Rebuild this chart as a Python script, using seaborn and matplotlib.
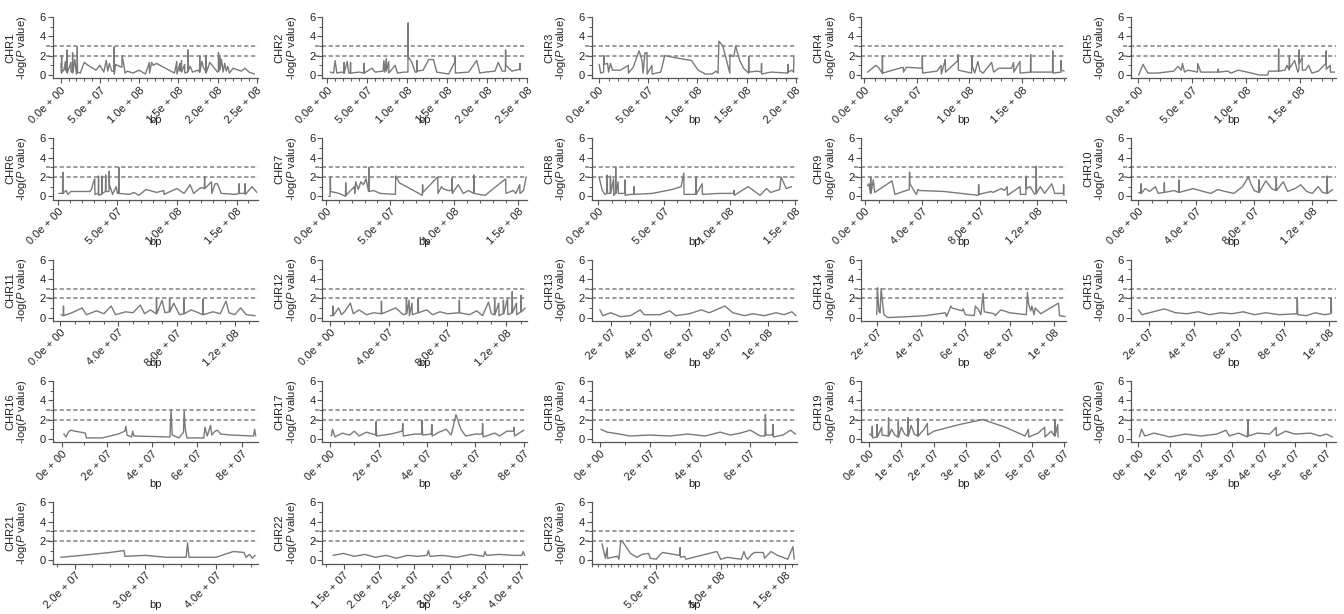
import matplotlib
matplotlib.use("Agg")
import matplotlib.pyplot as plt
import seaborn as sns
import pandas as pd
from matplotlib.ticker import FixedLocator, FixedFormatter, MultipleLocator

# ---------------- data (positions in Mb, values are -log10 P) ----------------
chr1 = [(0.5,1.2),(1.0,0.2),(1.2,2.0),(1.4,0.3),(4,0.5),(6,1.4),(6.2,0.5),(8,0.3),(8.2,2.6),(8.4,0.2),(10,0.6),(11,0.8),(13,1.3),(13.2,0.3),(15,0.3),(15.2,2.3),(15.4,0.2),(18,1.6),(20,0.1),(21,0.2),(21.2,2.9),(21.4,0.3),(25,0.2),(30,1.3),(35,1.0),(45,0.5),(50,1.0),(55,0.3),(58,1.5),(60,0.4),(62,1.2),(65,0.4),(68,0.4),(68.2,2.9),(68.4,0.1),(70,1.1),(72,1.0),(78,0.8),(78.2,2.0),(80,1.3),(82,0.2),(85,0.4),(92,0.2),(100,0.5),(108,0.1),(113,1.3),(113.2,0.2),(116,1.3),(118,1.0),(122,1.2),(145,0.2),(148,1.4),(148.2,0.1),(152,1.2),(152.2,0.4),(154,1.5),(154.2,0.3),(158,1.1),(158.2,0.2),(162,0.3),(162.2,2.6),(162.4,0.4),(165,0.9),(168,0.3),(175,0.5),(177,0.3),(177.2,2.0),(177.4,0.3),(180,1.4),(182,0.8),(185,0.3),(185.2,2.0),(185.4,0.2),(190,1.3),(195,0.8),(200,0.3),(201,0.4),(201.2,2.3),(201.4,0.4),(203,1.8),(203.2,0.6),(205,1.6),(207,0.3),(209,1.2),(211,0.4),(213,0.9),(215,0.2),(220,0.7),(230,0.4),(235,0.7),(240,0.3),(247,0.1)]
chr2 = [(4,0.3),(8,0.2),(10,1.5),(12,0.2),(18,0.3),(21,0.2),(21.2,1.3),(21.4,0.2),(25,1.4),(27,0.2),(29,0.2),(29.2,1.3),(29.4,0.2),(40,0.3),(46,0.2),(46.2,1.2),(46.4,0.2),(56,0.7),(60,0.3),(70,0.4),(71,1.5),(72,0.3),(74,1.7),(74.2,0.4),(77,1.4),(77.2,0.2),(85,1.0),(88,0.2),(96,0.3),(101,0.3),(101.2,5.4),(101.4,1.9),(106,1.3),(110,0.3),(112,0.3),(112.2,1.5),(112.4,0.4),(120,0.5),(127,1.6),(133,1.6),(137,0.3),(152,0.1),(160,1.4),(160.2,1.9),(160.4,0.2),(177,0.3),(187,1.5),(191,0.2),(198,0.3),(210,0.4),(214,1.3),(219,0.4),(223,0.4),(223.2,2.6),(223.4,1.0),(231,0.4),(241,0.6),(241.2,1.2),(241.4,0.5)]
chr3 = [(0.5,1.1),(2,0.2),(5,0.3),(5.2,2.0),(5.4,1.1),(9,1.2),(10,0.3),(12,1.2),(14,0.5),(22,0.5),(30,1.0),(30.2,0.2),(35,0.8),(41,2.5),(44,1.5),(45,0.2),(47,2.3),(49,2.3),(49.2,0.1),(54,1.0),(54.2,0.1),(63,0.3),(67,2.0),(77,1.8),(94,1.5),(101,0.5),(108,0.1),(115,0.1),(119,0.4),(121,0.2),(122,3.5),(126,3.0),(133,0.2),(133.2,2.1),(137,1.9),(139,3.0),(143,1.5),(147,0.7),(150,0.4),(152,0.2),(152.2,1.9),(152.4,0.3),(161,0.4),(165,0.3),(165.2,1.2),(165.4,0.1),(175,0.3),(192,0.2),(192.2,1.1),(192.4,0.3),(196,0.5),(197.8,0.3),(198,2.0)]
chr4 = [(3,0.3),(11,1.0),(14,0.7),(17,0.2),(17.2,2.0),(17.4,0.2),(37,0.8),(37.2,0.3),(40,0.8),(55,0.7),(55.2,2.0),(55.4,0.2),(69,0.4),(73,1.0),(73.2,0.1),(76,1.2),(77,1.6),(77.2,0.3),(89,1.5),(89.2,2.1),(89.4,0.5),(102,0.2),(102.2,2.0),(102.4,1.0),(105,0.2),(108,1.4),(110,0.4),(113,0.2),(121,1.3),(123,0.3),(128,0.7),(140,0.7),(142,1.3),(142.2,0.3),(148,1.4),(148.2,0.2),(158,0.3),(158.2,2.1),(158.4,0.3),(173,0.3),(179,0.3),(179.2,2.5),(179.4,0.2),(187,0.3),(187.2,1.5),(187.4,0.5),(190,0.4)]
chr5 = [(0.5,0.0),(4.5,1.1),(9,0.2),(18,0.2),(33,0.4),(37,0.9),(40,0.5),(41,1.2),(43,0.3),(46,0.5),(55,0.3),(55.2,1.2),(58,0.3),(74,0.3),(74.2,0.6),(74.4,0.3),(83,0.4),(86,0.2),(93,0.5),(105,0.2),(112,0.0),(120,0.0),(121,0.4),(130,0.4),(130.2,2.7),(130.4,0.4),(136,0.5),(138,1.0),(140,0.5),(140.2,2.0),(140.4,0.7),(145,1.5),(148,0.3),(149,0.5),(149.2,2.6),(149.4,1.2),(152,1.8),(152.2,0.5),(155,0.5),(158,1.0),(161,0.2),(167,0.4),(174,1.2),(174.2,2.5),(174.4,0.6),(178,1.0),(178.2,0.3),(182,0.3)]
chr6 = [(1,0.3),(4,0.3),(4.2,2.5),(4.4,0.3),(7,0.6),(8.5,0.2),(11,0.5),(27,0.5),(28.5,0.8),(30,1.5),(31,1.8),(31.2,0.2),(34,0.3),(34.2,2.1),(34.4,0.1),(37,0.2),(37.2,2.1),(37.4,0.3),(40,0.5),(40.2,2.2),(40.4,0.5),(43,0.5),(43.2,2.6),(43.4,1.2),(46,0.2),(49,1.0),(50,0.3),(51,0.3),(51.2,3.0),(51.4,0.3),(60,0.2),(64,0.4),(68,0.1),(74,0.7),(83,0.4),(89,0.6),(89.2,0.2),(100,0.8),(106,0.3),(111,1.2),(114,0.3),(120,0.9),(123,0.8),(123.2,2.0),(123.4,0.8),(129,1.5),(129.2,0.3),(132,1.3),(134,1.3),(137,0.3),(149,0.2),(152,0.3),(152.2,1.3),(152.4,0.3),(157,0.3),(157.2,1.3),(157.4,0.2),(163,1.0),(167,0.4)]
chr7 = [(2,0.0),(3,0.0),(3.2,2.0),(3.4,0.5),(10,0.3),(15,0.0),(15.2,1.4),(15.4,0.1),(22,1.0),(22.2,0.3),(23,1.5),(25,0.7),(27,1.5),(29,1.2),(31,1.8),(33,0.5),(33.2,3.0),(33.4,0.5),(37,0.6),(42,0.3),(54,0.2),(54.2,2.1),(57,1.4),(75,0.1),(75.2,1.2),(75.4,0.4),(87,2.0),(87.2,0.3),(90,1.0),(91,0.8),(95,0.6),(98,0.6),(98.2,1.9),(98.4,0.3),(103,1.2),(107,0.3),(111,0.6),(115,0.3),(115.2,2.2),(115.4,0.3),(119,0.2),(124,0.1),(140,1.8),(140.2,0.3),(146,0.6),(148,0.3),(151,1.2),(151.2,0.3),(154,0.6),(156,2.0)]
chr8 = [(0.5,2.0),(3,0.6),(5,0.2),(6.5,0.3),(6.7,2.2),(6.9,0.3),(9,0.3),(9.2,2.1),(9.4,0.3),(11.5,1.8),(11.7,0.1),(13,0.3),(13.2,3.0),(13.4,0.3),(15,1.5),(15.2,0.3),(20,0.3),(20.2,1.7),(20.4,0.1),(24,0.2),(27,0.2),(27.2,1.0),(27.4,0.2),(41,0.3),(56,0.7),(63,1.0),(65,2.4),(65.2,0.2),(74,0.2),(74.2,2.0),(74.4,0.2),(79,1.3),(79.2,0.2),(92,0.3),(103,0.3),(103.2,0.6),(103.4,0.1),(114,1.0),(123,0.1),(128,0.8),(131,0.4),(138,0.7),(139,2.0),(143,0.8),(147,1.0)]
chr9 = [(2,1.1),(3,1.3),(4,0.3),(4.2,2.0),(4.4,0.3),(6,1.7),(7,0.4),(19,1.6),(21,0.2),(31,0.7),(31.2,2.5),(31.4,1.3),(35,0.4),(36,0.2),(37,0.7),(38,0.6),(55,0.5),(79,0.1),(79.2,1.2),(79.4,0.2),(88,0.5),(89,0.4),(95,0.8),(97,0.6),(99,1.0),(99.2,0.1),(108,1.0),(108.2,0.2),(112,0.2),(112.2,2.1),(112.4,0.8),(115,1.0),(118,0.2),(119,0.3),(119.2,3.1),(119.4,0.3),(122,1.0),(125,0.3),(130,1.3),(132,0.3),(138,0.3),(138.2,1.2),(138.4,0.1)]
chr10 = [(0.5,0.4),(2,0.3),(2.2,1.3),(2.4,0.3),(5,0.8),(8,0.5),(12,1.0),(14,0.3),(18,0.4),(18.2,1.4),(18.4,0.4),(25,0.6),(28,0.4),(28.2,1.7),(28.4,0.4),(38,0.8),(45,0.5),(50,0.3),(55,0.7),(60,0.5),(66,0.3),(72,1.0),(76,2.0),(78,1.2),(80,0.6),(83,0.4),(83.2,1.7),(83.4,0.4),(88,1.6),(92,0.8),(95,0.6),(95.2,1.9),(95.4,0.6),(100,1.5),(103,0.5),(108,0.8),(112,1.2),(116,0.5),(120,0.3),(124,1.0),(127,0.4),(130,0.3),(130.2,2.1),(130.4,0.3),(134,0.7)]
chr11 = [(0.5,0.3),(2,0.2),(2.2,1.2),(2.4,0.2),(8,0.5),(15,1.0),(18,0.3),(25,0.7),(30,0.4),(35,1.2),(38,0.3),(45,0.6),(50,0.5),(55,1.3),(58,0.4),(62,0.8),(66,0.4),(66.2,2.0),(66.4,0.4),(70,1.8),(72,0.5),(75,0.6),(75.2,2.0),(75.4,0.6),(78,1.5),(82,0.3),(85,0.4),(85.2,1.9),(85.4,0.4),(90,0.8),(95,0.5),(98,0.3),(98.2,1.9),(98.4,0.3),(105,0.6),(110,0.4),(114,1.7),(116,0.5),(120,0.3),(124,1.0),(128,0.3),(134,0.2)]
chr12 = [(0.5,0.2),(2,0.2),(2.2,1.2),(2.4,0.2),(6,1.0),(8,0.3),(10,0.6),(14,1.5),(16,0.4),(20,0.8),(25,0.3),(30,0.5),(35,0.4),(35.2,1.7),(35.4,0.4),(45,1.0),(50,0.3),(52,0.4),(52.2,2.0),(52.4,0.4),(54,1.8),(54.2,0.2),(56,1.5),(56.2,0.3),(60,0.5),(60.2,2.0),(60.4,0.5),(66,0.8),(70,0.3),(75,0.6),(80,0.4),(88,0.5),(88.2,1.8),(88.4,0.5),(95,0.3),(100,0.7),(104,0.2),(108,1.6),(110,0.4),(112,0.3),(112.2,1.9),(112.4,0.3),(115,1.5),(115.2,0.2),(118,0.4),(118.2,1.8),(118.4,0.4),(121,2.0),(121.2,0.3),(124,0.5),(124.2,2.7),(124.4,0.5),(127,1.5),(127.2,0.3),(130,0.6),(130.2,2.3),(130.4,0.6),(133,1.0)]
chr13 = [(14.5,0.8),(16,0.2),(20,0.5),(25,0.1),(30,0.2),(35,0.8),(37,0.3),(45,0.3),(50,0.7),(53,0.2),(60,0.4),(66,0.8),(70,0.5),(78,1.2),(82,0.5),(88,0.2),(92,0.4),(98,0.2),(104,0.5),(108,0.3),(112,0.6),(114,0.2)]
chr14 = [(20,0.3),(20.3,3.1),(21,0.6),(21.5,0.5),(22,3.0),(22.8,1.2),(23.3,0.3),(25,0.0),(34,0.1),(42,0.2),(51,0.5),(51.5,0.1),(53.5,1.2),(54,1.0),(58.5,0.7),(59,0.9),(60,0.3),(64,0.2),(64.5,1.2),(66,0.8),(67,0.3),(68,2.5),(68.5,0.6),(73,0.4),(73.5,0.2),(76,0.8),(80,0.5),(87.5,0.3),(88,2.6),(88.5,1.4),(89.5,0.7),(90,1.2),(91,0.3),(91.5,1.0),(94,0.4),(102,1.5),(102.5,0.2),(105,0.1)]
chr15 = [(15.5,0.8),(17,0.3),(22,0.6),(27,0.9),(32,0.5),(37,0.4),(42,0.6),(47,0.3),(52,0.5),(57,0.4),(62,0.6),(67,0.3),(72,0.5),(78,0.3),(85.8,0.4),(86,2.0),(86.2,0.3),(90,0.2),(94,0.5),(98,0.3),(100.8,0.4),(101,2.0),(101.2,0.5)]
chr16 = [(1,0.5),(2,0.2),(3,0.7),(4,0.9),(6,0.8),(10.5,0.6),(11,0.1),(18,0.1),(25,0.5),(28,0.8),(28.5,1.3),(29,0.4),(31,0.2),(31.5,0.8),(32,0.3),(48,0.2),(48.5,3.0),(49,0.4),(52,0.1),(54,0.7),(54.3,2.9),(54.8,1.0),(55.5,0.1),(63,0.1),(63.5,1.2),(64.5,0.3),(66,1.4),(66.5,0.4),(68,0.8),(69,0.9),(70.5,0.5),(75,0.4),(85,0.3),(85.5,1.0),(86,0.3)]
chr17 = [(0.5,0.3),(1,1.0),(2,0.2),(5,0.6),(8,0.4),(10,0.8),(12,0.3),(15,0.7),(18.8,0.4),(19,1.8),(19.2,0.3),(25,0.5),(29.8,0.8),(30,1.6),(30.2,0.3),(35,0.5),(37.8,0.5),(38,1.9),(38.2,0.4),(41.8,0.5),(42,1.5),(42.2,0.3),(45,0.7),(48,1.0),(50,0.4),(52,2.5),(54,1.0),(56,0.3),(60,0.5),(62.8,0.5),(63,1.6),(63.2,0.2),(68,0.6),(70,0.3),(73,0.8),(75.8,0.8),(76,1.2),(76.2,0.3),(80,0.9)]
chr18 = [(0.5,1.0),(3,0.7),(8,0.5),(12,0.3),(20,0.4),(28,0.3),(35,0.5),(42,0.3),(48,0.7),(52,0.4),(56,0.6),(60,0.9),(64,0.3),(65.8,0.3),(66,2.5),(66.2,0.4),(68.8,0.4),(69,1.5),(69.2,0.2),(73,0.4),(76,0.9),(78,0.5)]
chr19 = [(0.3,0.5),(1,0.3),(1.1,1.3),(1.2,0.1),(2.5,0.2),(2.6,1.5),(2.7,0.2),(4,1.2),(4.1,0.4),(6,0.3),(6.1,2.2),(6.2,0.3),(7,1.0),(8,0.4),(9,0.2),(9.1,1.8),(9.2,0.2),(10,1.2),(11,0.5),(12,0.3),(12.1,2.2),(12.2,0.3),(13,1.4),(14,0.5),(15,0.3),(15.1,2.1),(15.2,0.3),(17,1.0),(18,1.6),(18.1,0.4),(20,0.8),(28,1.5),(35,2.0),(42,1.2),(48,0.3),(49,1.0),(49.1,0.2),(52,0.6),(54,1.2),(54.1,0.2),(56,0.8),(57,0.3),(57.1,2.0),(57.2,0.3),(58,1.5),(58.1,0.2)]
chr20 = [(0.3,0.2),(1,1.0),(2,0.3),(5,0.6),(10,0.2),(15,0.5),(20,0.3),(25,0.5),(28,0.9),(29,0.3),(32,0.6),(34.8,0.2),(35,2.0),(35.2,0.3),(38,0.6),(42,0.5),(44,1.2),(44.1,0.3),(47,0.8),(50,0.5),(55,0.6),(58,0.3),(60,0.5),(62,0.2)]
chr21 = [(18,0.3),(21,0.5),(25,0.8),(27,1.0),(27.1,0.4),(30,0.5),(33,0.3),(35.8,0.3),(36,1.8),(36.2,0.3),(40,0.3),(42.5,0.9),(44,0.8),(44.3,0.3),(44.8,0.6),(45.2,0.2),(45.6,0.5)]
chr22 = [(13.5,0.5),(15,0.7),(16.5,0.4),(18,0.6),(19.5,0.3),(21,0.5),(22.5,0.2),(24,0.5),(25.5,0.4),(26.8,0.5),(27,1.0),(27.2,0.4),(29,0.5),(31,0.3),(33,0.6),(34.8,0.4),(35,0.9),(35.2,0.5),(37,0.6),(39,0.5),(40.2,0.5),(40.4,0.9),(40.6,0.5)]
chr23 = [(8,1.7),(10.5,0.2),(12,1.3),(12.2,0.2),(20,0.4),(21,0.1),(22.5,2.0),(24,1.9),(30,0.7),(35,0.3),(39,0.6),(44,0.7),(45.5,0.2),(50,0.1),(53,0.6),(55,0.8),(68,0.5),(68.5,1.3),(68.7,0.3),(72,0.4),(73,0.1),(97,0.9),(100,0.1),(105,0.3),(110,0.2),(116,0.1),(118,0.9),(119.5,0.3),(121,0.1),(124,0.6),(126,0.8),(133,0.8),(134,0.2),(139,0.9),(144,0.5),(152,0.1),(156,1.4),(157,0.1)]

series = [chr1, chr2, chr3, chr4, chr5, chr6, chr7, chr8, chr9, chr10, chr11, chr12,
          chr13, chr14, chr15, chr16, chr17, chr18, chr19, chr20, chr21, chr22, chr23]
chrom_names = ["CHR%d" % i for i in range(1, 24)]

# x-axis extent of each panel (Mb)
x_extent = [(-9.8, 251.5), (-6, 250.5), (-7, 201), (-3, 192), (-7, 183), (-4, 168),
            (-3, 157), (-5, 151), (-2.4, 140), (-5, 136), (-5, 136), (-5, 134.5),
            (10.4, 114.5), (13, 105.5), (12, 103), (-3.8, 87), (-3.2, 81.5), (-3.1, 78.5),
            (-2.3, 60.6), (-2.5, 63), (16.9, 46), (12, 41), (0, 159)]

# tick positions (Mb) and labels
ticks_a = [0, 50, 100, 150, 200, 250]
labels_a = ["0.0e + 00", "5.0e + 07", "1.0e + 08", "1.5e + 08", "2.0e + 08", "2.5e + 08"]
ticks_b = [0, 40, 80, 120]
labels_b = ["0.0e + 00", "4.0e + 07", "8.0e + 07", "1.2e + 08"]
ticks_c = [20, 40, 60, 80, 100]
labels_c = ["2e + 07", "4e + 07", "6e + 07", "8e + 07", "1e + 08"]
ticks_d = [0, 20, 40, 60, 80]
labels_d = ["0e + 00", "2e + 07", "4e + 07", "6e + 07", "8e + 07"]
ticks_e = [0, 10, 20, 30, 40, 50, 60]
labels_e = ["0e + 00", "1e + 07", "2e + 07", "3e + 07", "4e + 07", "5e + 07", "6e + 07"]
ticks_f = [20, 30, 40]
labels_f = ["2.0e + 07", "3.0e + 07", "4.0e + 07"]
ticks_g = [15, 20, 25, 30, 35, 40]
labels_g = ["1.5e + 07", "2.0e + 07", "2.5e + 07", "3.0e + 07", "3.5e + 07", "4.0e + 07"]
ticks_h = [50, 100, 150]
labels_h = ["5.0e + 07", "1.0e + 08", "1.5e + 08"]

tick_sets = [
    (ticks_a, labels_a), (ticks_a, labels_a), (ticks_a[:5], labels_a[:5]),
    (ticks_a[:4], labels_a[:4]), (ticks_a[:4], labels_a[:4]), (ticks_a[:4], labels_a[:4]),
    (ticks_a[:4], labels_a[:4]), (ticks_a[:4], labels_a[:4]),
    (ticks_b, labels_b), (ticks_b, labels_b), (ticks_b, labels_b), (ticks_b, labels_b),
    (ticks_c, labels_c), (ticks_c, labels_c), (ticks_c, labels_c),
    (ticks_d, labels_d), (ticks_d, labels_d), (ticks_d[:4], labels_d[:4]),
    (ticks_e, labels_e), (ticks_e, labels_e),
    (ticks_f, labels_f), (ticks_g, labels_g), (ticks_h, labels_h),
]
thresholds = [2, 3]

# ---------------- style ----------------
sns.set_style("ticks")
plt.rcParams["font.family"] = ["Liberation Sans", "DejaVu Sans"]
plt.rcParams["mathtext.fontset"] = "custom"
plt.rcParams["mathtext.it"] = "Liberation Sans:italic"
plt.rcParams["mathtext.rm"] = "Liberation Sans"

W, H = 1344, 614
fig = plt.figure(figsize=(W / 100, H / 100), dpi=100)

line_col = "#7a7a7a"
axis_col = "#555555"
text_col = "#222222"
FS = 8.0

for i, (name, data) in enumerate(zip(chrom_names, series)):
    r, c = divmod(i, 5)
    left_px = 53 + 269.4 * c
    top6_px = 17 + 121.3 * r
    span = 58.0  # px for 6 units
    ylo, yhi = -0.35, 6.0
    h_px = span * (yhi - ylo) / 6.0
    w_px = 205
    ax = fig.add_axes([left_px / W, 1 - (top6_px + h_px) / H, w_px / W, h_px / H])

    df = pd.DataFrame(data, columns=["pos", "val"])
    df["bp"] = df["pos"] * 1e6
    sns.lineplot(data=df, x="bp", y="val", ax=ax, estimator=None, sort=False,
                 color=line_col, linewidth=1.0)

    for t in thresholds:
        ax.axhline(t, xmin=-0.035, xmax=1.0, color="#8a8a8a", linestyle=(0, (2.5, 1.6)),
                   linewidth=1.2, clip_on=False, zorder=0)

    tk, tl = tick_sets[i]
    x0, x1 = x_extent[i]
    ax.set_xlim(x0 * 1e6, x1 * 1e6)
    ax.set_ylim(ylo, yhi)

    ax.xaxis.set_major_locator(FixedLocator([t * 1e6 for t in tk]))
    ax.xaxis.set_major_formatter(FixedFormatter(tl))
    if i >= 20:
        ax.xaxis.set_minor_locator(MultipleLocator(5e6 if i == 22 else 2.5e6))
    else:
        ax.xaxis.set_minor_locator(MultipleLocator(1e7))
    ax.yaxis.set_major_locator(FixedLocator([0, 2, 4, 6]))
    ax.yaxis.set_minor_locator(FixedLocator([1, 3, 5]))

    ax.tick_params(axis="both", which="major", length=3.5, width=0.8, color=axis_col,
                   labelsize=FS, labelcolor=text_col, pad=1.5)
    ax.tick_params(axis="both", which="minor", length=2.5, width=0.7, color=axis_col)
    for lab in ax.get_xticklabels():
        lab.set_rotation(45)
        lab.set_ha("right")
        lab.set_rotation_mode("anchor")

    for s in ["top", "right"]:
        ax.spines[s].set_visible(False)
    for s in ["left", "bottom"]:
        ax.spines[s].set_color(axis_col)
        ax.spines[s].set_linewidth(0.9)

    ax.set_xlabel("bp", fontsize=FS, color=text_col)
    ax.xaxis.set_label_coords(0.5, -0.6)
    ax.set_ylabel(name + "\n" + r"-log($\mathit{P}$ value)", fontsize=FS,
                  color=text_col, linespacing=1.0)
    ax.yaxis.set_label_coords(-0.115, 0.5)

fig.savefig("out.png", dpi=100)
